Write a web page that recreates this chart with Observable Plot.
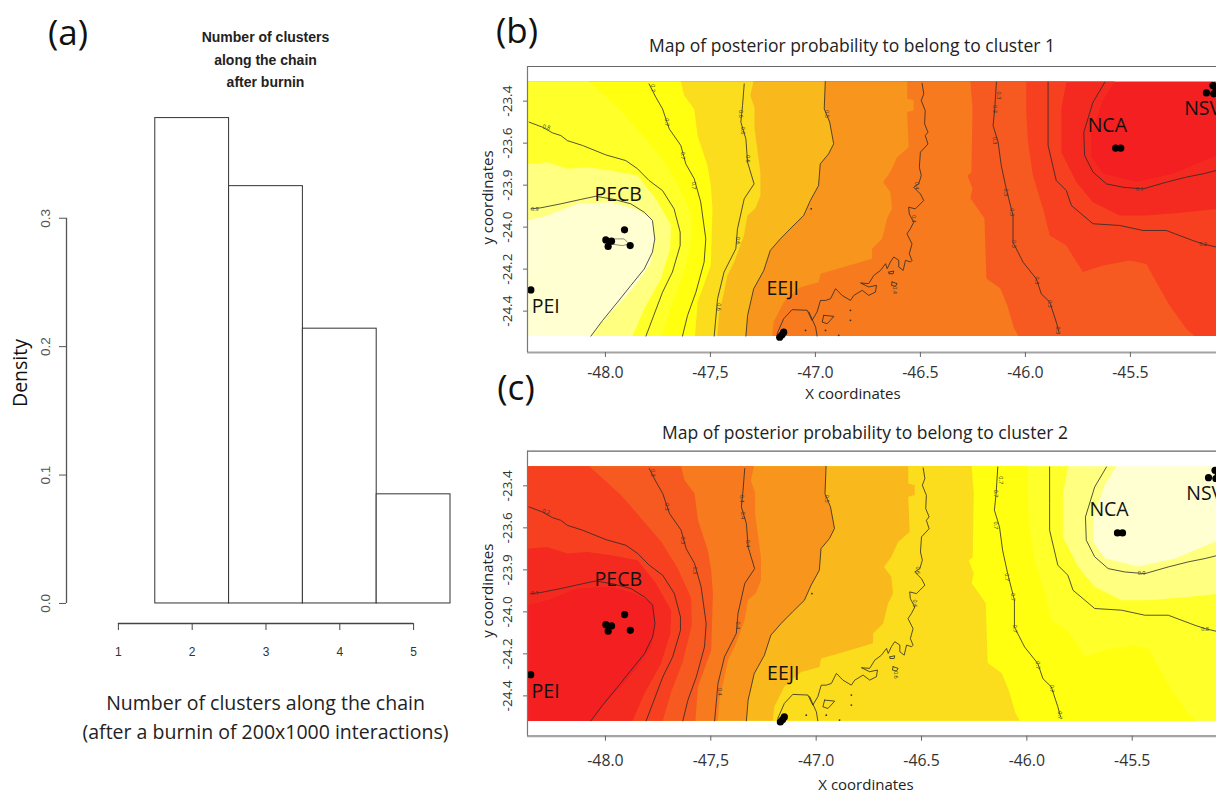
<!DOCTYPE html>
<html>
<head>
<meta charset="utf-8">
<script src="https://cdn.jsdelivr.net/npm/d3@7"></script>
<script src="https://cdn.jsdelivr.net/npm/@observablehq/plot@0.6"></script>
<style>
html,body{margin:0;padding:0;background:#fff;overflow:hidden}
#root{position:relative;width:1216px;height:791px;overflow:hidden;font-family:"Open Sans",sans-serif}
#root svg{position:absolute;background:transparent}
.tag{position:absolute;font-size:35px;color:#111;line-height:1;transform:translate(-50%,-50%);white-space:nowrap}
</style>
</head>
<body>
<div id="root"></div>
<script>
// Panel (a): histogram
const clusterBins = [1, 2, 3, 4, 5];
const clusterDensity = [0, 0.378, 0.325, 0.214, 0.085];
const densityTicks = [0, 0.1, 0.2, 0.3];

// Map axes
const lonTicks = [-48, -47.5, -47, -46.5, -46, -45.5];
const lonTickLabels = ["-48.0", "-47,5", "-47.0", "-46.5", "-46.0", "-45.5"];
const latTicks = [-23.4, -23.6, -23.8, -24, -24.2, -24.4];
const latTickLabels = ["-23.4", "-23.6", "-23.9", "-24.0", "-24.2", "-24.4"];

// Map extent (corners of the image)
const W = -48.371, E = -45.09, N = -23.307, S = -24.519;
const NW = [W, N], SW = [W, S], SE = [E, S];

// Sampling sites
const siteLon = [-47.909, -47.998, -47.971, -47.987, -47.882, -48.355, -47.151, -47.170, -47.159, -45.570, -45.546, -45.107, -45.138, -45.103, -45.091];
const siteLat = [-24.013, -24.061, -24.067, -24.092, -24.088, -24.299, -24.500, -24.524, -24.513, -23.624, -23.624, -23.326, -23.361, -23.365, -23.345];
const siteNames = ["PEI", "PECB", "NCA", "NSV", "EEJI"];
const nameLon = [-48.284, -47.939, -45.610, -45.156, -47.156];
const nameLat = [-24.381, -23.846, -23.516, -23.437, -24.294];

// Contour lines of the posterior probability of cluster 1
const c90 = [[-48.355,-23.913],[-48.308,-23.908],[-48.212,-23.889],[-48.117,-23.868],[-48.046,-23.853],[-47.958,-23.868],[-47.879,-23.889],[-47.815,-23.929],[-47.776,-23.968],[-47.765,-24.056],[-47.776,-24.119],[-47.815,-24.199],[-47.879,-24.278],[-47.942,-24.357],[-48.014,-24.445],[-48.069,-24.519]];
const c80 = [[-48.363,-23.500],[-48.300,-23.524],[-48.252,-23.551],[-48.212,-23.564],[-48.181,-23.588],[-48.109,-23.611],[-47.998,-23.656],[-47.903,-23.683],[-47.847,-23.722],[-47.792,-23.778],[-47.728,-23.826],[-47.673,-23.913],[-47.644,-24.024],[-47.644,-24.088],[-47.681,-24.214],[-47.728,-24.310],[-47.776,-24.437],[-47.807,-24.519]];
const c70 = [[-47.792,-23.318],[-47.760,-23.381],[-47.728,-23.437],[-47.696,-23.532],[-47.641,-23.611],[-47.617,-23.699],[-47.577,-23.770],[-47.546,-23.881],[-47.522,-24.056],[-47.530,-24.167],[-47.569,-24.310],[-47.609,-24.421],[-47.633,-24.519]];
const c60 = [[-47.339,-23.318],[-47.347,-23.421],[-47.355,-23.500],[-47.331,-23.580],[-47.323,-23.691],[-47.292,-23.794],[-47.339,-23.865],[-47.371,-24.008],[-47.379,-24.103],[-47.435,-24.214],[-47.466,-24.341],[-47.482,-24.519]];
const c50 = [[-46.953,-23.307],[-46.958,-23.437],[-46.932,-23.500],[-46.913,-23.603],[-46.937,-23.651],[-46.977,-23.699],[-46.985,-23.802],[-47.024,-23.873],[-47.056,-23.945],[-47.112,-24.000],[-47.167,-24.056],[-47.215,-24.111],[-47.246,-24.207],[-47.294,-24.294],[-47.323,-24.421],[-47.331,-24.519]];
const c40 = [[-46.492,-23.315],[-46.484,-23.365],[-46.496,-23.397],[-46.477,-23.445],[-46.480,-23.508],[-46.464,-23.548],[-46.477,-23.564],[-46.464,-23.604],[-46.500,-23.643],[-46.505,-23.715],[-46.496,-23.754],[-46.508,-23.794],[-46.532,-23.810],[-46.500,-23.842],[-46.484,-23.873],[-46.524,-23.913],[-46.556,-23.905],[-46.553,-23.937],[-46.532,-23.977],[-46.548,-24.008],[-46.564,-24.032],[-46.540,-24.080],[-46.553,-24.127],[-46.540,-24.159],[-46.547,-24.166],[-46.571,-24.158],[-46.582,-24.206],[-46.603,-24.190],[-46.603,-24.158],[-46.627,-24.142],[-46.643,-24.166],[-46.658,-24.198],[-46.666,-24.174],[-46.690,-24.206],[-46.722,-24.230],[-46.746,-24.269],[-46.785,-24.266],[-46.746,-24.285],[-46.709,-24.277],[-46.714,-24.309],[-46.746,-24.325],[-46.777,-24.301],[-46.817,-24.325],[-46.833,-24.349],[-46.873,-24.325],[-46.904,-24.293],[-46.928,-24.341],[-46.952,-24.349],[-46.976,-24.349],[-46.992,-24.404],[-47.016,-24.444],[-47.039,-24.396],[-47.111,-24.393],[-47.151,-24.436],[-47.182,-24.507]];
const c40b = [[-47.031,-24.404],[-46.999,-24.476],[-46.992,-24.519]];
const c40c = [[-46.960,-24.420],[-46.912,-24.425],[-46.944,-24.460],[-46.968,-24.452],[-46.960,-24.420]];
const c40d = [[-46.635,-24.261],[-46.611,-24.269],[-46.619,-24.282],[-46.638,-24.277],[-46.635,-24.261]];
const c40e = [[-46.650,-24.214],[-46.627,-24.209],[-46.630,-24.222],[-46.650,-24.222],[-46.650,-24.214]];
const c30 = [[-46.138,-23.310],[-46.146,-23.437],[-46.154,-23.516],[-46.130,-23.595],[-46.115,-23.707],[-46.091,-23.818],[-46.059,-23.945],[-46.059,-24.072],[-46.011,-24.167],[-45.948,-24.246],[-45.924,-24.318],[-45.884,-24.357],[-45.853,-24.452],[-45.840,-24.500]];
const c20 = [[-45.892,-23.310],[-45.892,-23.484],[-45.892,-23.611],[-45.853,-23.778],[-45.805,-23.826],[-45.781,-23.897],[-45.678,-23.984],[-45.551,-23.992],[-45.440,-24.016],[-45.329,-24.016],[-45.202,-24.064],[-45.154,-24.080],[-45.090,-24.095]];
const c10 = [[-45.622,-23.310],[-45.678,-23.405],[-45.722,-23.548],[-45.718,-23.659],[-45.678,-23.738],[-45.614,-23.794],[-45.535,-23.810],[-45.440,-23.818],[-45.329,-23.786],[-45.234,-23.762],[-45.154,-23.746],[-45.090,-23.730]];
const contourLines = [c90, c80, c70, c60, c50, c40, c40b, c40c, c40d, c40e, c30, c20, c10];
const c100 = [[-47.982,-24.056],[-47.911,-24.056],[-47.887,-24.080],[-47.919,-24.088],[-47.974,-24.080]];
const spotLon = [-46.833, -46.833, -46.952, -47.047, -46.889, -47.020];
const spotLat = [-24.396, -24.444, -24.492, -24.492, -24.515, -23.913];

// Contour labels (probability of cluster 1)
const labelLon = [-48.336,-48.281,-47.776,-47.707,-47.631,-47.577,-47.355,-47.347,-47.323,-47.371,-47.458,-46.948,-46.516,-46.532,-46.624,-46.126,-46.146,-46.146,-46.094,-46.067,-46.056,-45.948,-45.884,-45.845,-45.456,-45.154];
const labelLat = [-23.913,-23.524,-23.338,-23.500,-23.659,-23.802,-23.461,-23.540,-23.675,-24.064,-24.381,-23.461,-23.802,-23.960,-24.300,-23.373,-23.437,-23.588,-23.834,-23.929,-24.080,-24.254,-24.365,-24.492,-23.818,-24.083];
const labelP = [0.9,0.8,0.7,0.7,0.7,0.7,0.6,0.6,0.6,0.6,0.6,0.5,0.4,0.4,0.4,0.3,0.3,0.3,0.3,0.3,0.3,0.3,0.3,0.3,0.1,0.2];
const labelTurn = [0,15,90,90,90,90,90,90,90,90,90,90,90,90,90,90,90,90,90,90,90,90,90,90,0,0];

// Edges of the raster's colour classes, from west to east
const e01 = [[-48.371,-23.968],[-48.276,-23.945],[-48.133,-23.889],[-47.974,-23.881],[-47.863,-23.913],[-47.776,-23.960],[-47.765,-24.072],[-47.784,-24.167],[-47.847,-24.262],[-47.927,-24.357],[-48.006,-24.437],[-48.069,-24.519],SW];
const e12 = [[-48.371,-23.699],[-48.276,-23.691],[-48.181,-23.722],[-48.085,-23.715],[-47.974,-23.730],[-47.847,-23.754],[-47.760,-23.865],[-47.688,-23.992],[-47.692,-24.103],[-47.736,-24.246],[-47.815,-24.389],[-47.871,-24.519],SW];
const e23 = [[-48.077,-23.307],[-48.014,-23.364],[-47.927,-23.443],[-47.831,-23.554],[-47.736,-23.665],[-47.657,-23.792],[-47.593,-23.935],[-47.590,-24.062],[-47.633,-24.237],[-47.688,-24.380],[-47.728,-24.519],SW,NW];
const e34 = [[-47.641,-23.307],[-47.625,-23.373],[-47.577,-23.437],[-47.561,-23.564],[-47.514,-23.707],[-47.498,-23.802],[-47.490,-23.913],[-47.498,-24.183],[-47.561,-24.357],[-47.573,-24.519],SW,NW];
const e45 = [[-47.295,-23.306],[-47.310,-23.373],[-47.290,-23.430],[-47.290,-23.530],[-47.276,-23.635],[-47.262,-23.740],[-47.262,-23.849],[-47.286,-23.911],[-47.324,-23.944],[-47.340,-24.040],[-47.387,-24.167],[-47.419,-24.230],[-47.435,-24.310],[-47.459,-24.416],[-47.467,-24.519],SW,NW];
const e56 = [...c50, SW, NW];
const e67 = [[-46.563,-23.307],[-46.563,-23.389],[-46.532,-23.397],[-46.532,-23.444],[-46.563,-23.452],[-46.556,-23.619],[-46.611,-23.667],[-46.643,-23.738],[-46.678,-23.786],[-46.643,-23.833],[-46.635,-23.912],[-46.659,-23.960],[-46.682,-24.055],[-46.730,-24.103],[-46.730,-24.150],[-46.865,-24.190],[-46.976,-24.222],[-46.984,-24.262],[-47.071,-24.286],[-47.151,-24.357],[-47.199,-24.452],[-47.206,-24.519],SW,NW];
const e78 = [[-46.262,-23.306],[-46.252,-23.435],[-46.257,-23.740],[-46.276,-23.754],[-46.252,-23.816],[-46.262,-23.863],[-46.238,-23.897],[-46.195,-23.959],[-46.186,-24.244],[-46.119,-24.292],[-46.086,-24.373],[-46.054,-24.482],[-46.033,-24.519],SW,NW];
const e89 = [[-45.996,-23.307],[-45.996,-23.453],[-45.988,-23.595],[-45.964,-23.754],[-45.916,-23.913],[-45.884,-24.040],[-45.805,-24.088],[-45.726,-24.214],[-45.630,-24.183],[-45.503,-24.159],[-45.424,-24.175],[-45.376,-24.262],[-45.313,-24.373],[-45.234,-24.484],[-45.194,-24.519],SW,NW];
const e910 = [[-45.805,-23.307],[-45.829,-23.437],[-45.829,-23.643],[-45.757,-23.786],[-45.678,-23.881],[-45.551,-23.945],[-45.424,-23.945],[-45.234,-23.929],[-45.090,-23.913],SE,SW,NW];
const e1011 = [[-45.575,-23.307],[-45.630,-23.395],[-45.686,-23.554],[-45.686,-23.665],[-45.630,-23.745],[-45.472,-23.784],[-45.297,-23.746],[-45.090,-23.659],SE,SW,NW];
const fullMap = [NW, [E, N], SE, SW];
const classEdges = [fullMap, e1011, e910, e89, e78, e67, e56, e45, e34, e23, e12, e01];

// Class colours, from east to west, panel (b); panel (c) uses them reversed
const classColours = ["#F31F20","#F42A20","#F64020","#F65A20","#F77A1F","#F7951D","#F9B91C","#FBDD1D","#FFFF0F","#FFFF2A","#FFFF80","#FFFFD2"];

const FONT = '"Open Sans", sans-serif';
const root = document.getElementById("root");
function place(svg, left, top) {
  svg.style.left = left + "px";
  svg.style.top = top + "px";
  root.appendChild(svg);
}

// ---------- Panel (a) ----------
const xLeft = 0.297, yBottom = -0.0156;
place(Plot.plot({
  width: 460, height: 791,
  marginLeft: 66, marginRight: 10, marginTop: 20, marginBottom: 168,
  style: {background: "transparent", fontFamily: '"Liberation Sans", sans-serif'},
  x: {domain: [xLeft, 5.5], axis: null},
  y: {domain: [yBottom, 0.454], axis: null},
  marks: [
    Plot.rect(clusterBins.map((b, i) => ({b, d: clusterDensity[i]})), {
      x1: d => d.b - 0.5, x2: d => d.b + 0.5, y1: 0, y2: "d",
      fill: "white", stroke: "#333", strokeWidth: 1, inset: 0
    }),
    Plot.ruleX([xLeft], {y1: 0, y2: 0.3, stroke: "#555", strokeWidth: 1.3}),
    Plot.ruleY([yBottom], {x1: 1, x2: 5, stroke: "#444", strokeWidth: 1.3}),
    Plot.axisY({ticks: densityTicks, tickFormat: d => d.toFixed(1), tickSize: 7, tickPadding: 10, tickRotate: -90, fontSize: 13.5, color: "#555", stroke: "#555", label: null}),
    Plot.axisX({ticks: clusterBins, tickFormat: d => String(d), tickSize: 7, tickPadding: 17, fontSize: 12, color: "#333", stroke: "#444", label: null}),
    Plot.text(["Number of clusters\nalong the chain\nafter burnin"], {frameAnchor: "top", dx: 7, dy: 5.5, lineAnchor: "top", lineHeight: 1.62, fontSize: 14, fontWeight: "bold", fill: "#222"}),
    Plot.text(["Density"], {frameAnchor: "left", textAnchor: "middle", dx: -46, dy: 51, rotate: -90, fontSize: 19.5, fontFamily: FONT, fill: "#111"}),
    Plot.text(["Number of clusters along the chain\n(after a burnin of 200x1000 interactions)"], {frameAnchor: "bottom", dx: 7, dy: 92, lineAnchor: "middle", lineHeight: 1.44, fontSize: 19.5, fontFamily: FONT, fill: "#222"})
  ]
}), 0, 0);

// ---------- Map panels ----------
function mapPanel({title, colours, xDomain, yDomain, height, marginTop, marginBottom, titleDx, titleDy, tickPad, xLabelDx, xLabelDy, yLabelDy, toLabel, extra}) {
  const path = (pts, options) => Plot.line(pts, {x: d => d[0], y: d => d[1], curve: "linear", clip: true, ...options});
  return Plot.plot({
    width: 756, height,
    marginLeft: 67, marginRight: 0, marginTop, marginBottom,
    style: {background: "transparent", fontFamily: FONT},
    x: {domain: xDomain, axis: null},
    y: {domain: yDomain, axis: null},
    marks: [
      ...classEdges.map((ring, i) => path(ring, {fill: colours[i], stroke: "none"})),
      ...contourLines.map(c => path(c, {stroke: "#2a2a2a", strokeWidth: 0.8})),
      ...extra.map(c => path(c, {stroke: "#444", strokeWidth: 0.6})),
      Plot.dot(spotLon, {x: d => d, y: (d, i) => spotLat[i], r: 0.9, fill: "#333", clip: true}),
      Plot.text(labelP, {x: (d, i) => labelLon[i], y: (d, i) => labelLat[i], text: d => toLabel(d), rotate: (d, i) => labelTurn[i], fontSize: 5.5, fill: "#333", clip: true}),
      Plot.dot(siteLon, {x: d => d, y: (d, i) => siteLat[i], r: 3.6, fill: "black"}),
      Plot.text(siteNames, {x: (d, i) => nameLon[i], y: (d, i) => nameLat[i], text: d => d, fontSize: 19.5, fill: "#111"}),
      Plot.ruleY([yDomain[1]], {stroke: "#666", strokeWidth: 1.2}),
      Plot.ruleY([yDomain[0]], {stroke: "#a4a4a4", strokeWidth: 2.2}),
      Plot.ruleX([xDomain[0]], {stroke: "#777", strokeWidth: 1.2}),
      Plot.axisX({ticks: lonTicks, tickFormat: (d) => lonTickLabels[lonTicks.indexOf(d)], tickSize: 5, tickPadding: tickPad, fontSize: 15.8, color: "#333", stroke: "#666", label: null}),
      Plot.axisY({ticks: latTicks, tickFormat: (d) => latTickLabels[latTicks.indexOf(d)], tickSize: 4, tickPadding: 12, tickRotate: -90, fontSize: 13.5, color: "#333", stroke: "#666", label: null}),
      Plot.text([title], {frameAnchor: "top", dx: titleDx, dy: titleDy, fontSize: 17.5, fill: "#222"}),
      Plot.text(["X coordinates"], {frameAnchor: "bottom", dx: xLabelDx, dy: xLabelDy, fontSize: 15, fill: "#222"}),
      Plot.text(["y coordinates"], {frameAnchor: "left", textAnchor: "middle", dx: -39, dy: yLabelDy, rotate: -90, fontSize: 15, fill: "#222"})
    ]
  });
}

place(mapPanel({
  title: "Map of posterior probability to belong to cluster 1",
  colours: classColours,
  xDomain: [W, E], yDomain: [-24.597, -23.235],
  height: 370, marginTop: 36, marginBottom: 48,
  titleDx: -20, titleDy: -27, tickPad: 9, xLabelDx: -19, xLabelDy: 46, yLabelDy: -12,
  toLabel: p => p.toFixed(1), extra: [c100]
}), 460, 30);

place(mapPanel({
  title: "Map of posterior probability to belong to cluster 2",
  colours: [...classColours].reverse(),
  xDomain: [-48.37, -45.10], yDomain: [-24.592, -23.235],
  height: 376, marginTop: 35.7, marginBottom: 55.3,
  titleDx: -7, titleDy: -25, tickPad: 14, xLabelDx: -6, xLabelDy: 54, yLabelDy: -3,
  toLabel: p => (1 - p).toFixed(1), extra: []
}), 460, 415);

// ---------- Panel tags ----------
for (const [text, x, y] of [["(a)", 68, 31], ["(b)", 517, 29], ["(c)", 516, 386]]) {
  const tag = document.createElement("div");
  tag.className = "tag";
  tag.textContent = text;
  tag.style.left = x + "px";
  tag.style.top = y + "px";
  root.appendChild(tag);
}
</script>
</body>
</html>
